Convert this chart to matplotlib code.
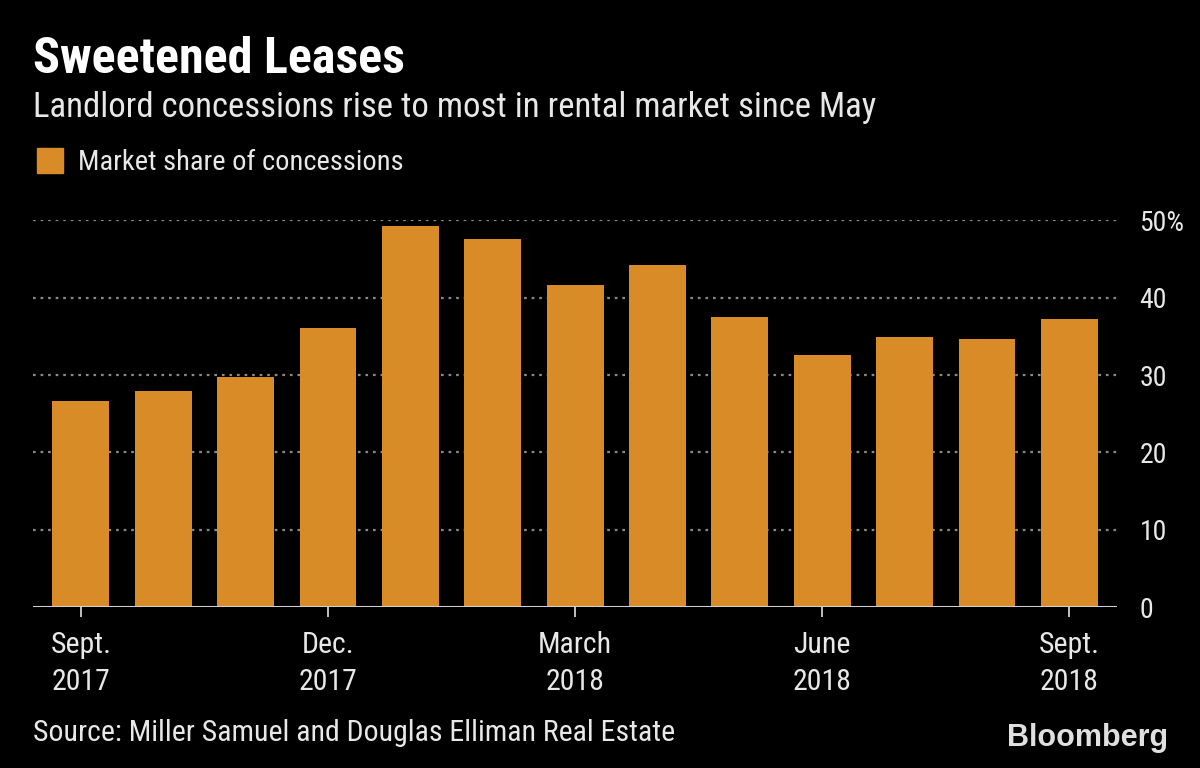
import matplotlib
matplotlib.use("Agg")
import matplotlib.pyplot as plt
from matplotlib import font_manager
import numpy as np

# data (market share of concessions, %)
months = ["Sept. 2017", "Oct. 2017", "Nov. 2017", "Dec. 2017", "Jan. 2018", "Feb. 2018",
          "March 2018", "April 2018", "May 2018", "June 2018", "July 2018", "Aug. 2018",
          "Sept. 2018"]
share = [26.6, 28.0, 29.7, 36.1, 49.3, 47.6, 41.7, 44.2, 37.5, 32.6, 34.9, 34.7, 37.3]
tick_idx = [0, 3, 6, 9, 12]
tick_labels = ["Sept.\n2017", "Dec.\n2017", "March\n2018", "June\n2018", "Sept.\n2018"]
y_ticks = [0, 10, 20, 30, 40, 50]
y_labels = ["0", "10", "20", "30", "40", "50%"]

# pick a narrow sans if one is around
installed = {f.name for f in font_manager.fontManager.ttflist}
font = "DejaVu Sans"
for cand in ["Roboto Condensed", "Liberation Sans Narrow", "DejaVu Sans Condensed", "Noto Sans"]:
    if cand in installed:
        font = cand
        break
plt.rcParams["font.family"] = [font, "DejaVu Sans"]

bg = "black"
orange = "#d98b27"
txt = "#e8e8e8"

fig = plt.figure(figsize=(12, 7.68), dpi=100, facecolor=bg)
ax = fig.add_axes([0.0275, 0.2096, 0.9035, 0.5033], facecolor=bg)

x = np.arange(len(share))
ax.bar(x, share, width=0.69, color=orange, zorder=3)

ax.set_xlim(-0.58, len(share) - 1 + 0.58)
ax.set_ylim(0, 50)

for v in y_ticks[1:]:
    ax.axhline(v, color="#8a8a8a", linestyle=(0, (1.2, 2.2)), linewidth=1.6, zorder=1)
ax.axhline(0, color="#cfcfcf", linewidth=1.5, zorder=4)

for s in ax.spines.values():
    s.set_visible(False)

ax.yaxis.tick_right()
ax.set_yticks(y_ticks)
ax.set_yticklabels(y_labels)
ax.tick_params(axis="y", length=0, pad=16, labelsize=20, labelcolor=txt)
for lab in ax.get_yticklabels():
    lab.set_horizontalalignment("left")

ax.set_xticks(tick_idx)
ax.set_xticklabels(tick_labels, linespacing=1.4)
ax.tick_params(axis="x", length=7.5, width=1.3, color="#cfcfcf", pad=10,
               labelsize=21.5, labelcolor=txt)

fig.text(0.0275, 0.905, "Sweetened Leases", color="white", fontsize=36,
         fontweight="bold", va="baseline")
fig.text(0.0275, 0.8477, "Landlord concessions rise to most in rental market since May",
         color=txt, fontsize=25, va="baseline")

fig.patches.append(plt.Rectangle((0.0308, 0.7747), 0.0217, 0.0326,
                                 transform=fig.transFigure, color=orange))
fig.text(0.065, 0.7786, "Market share of concessions", color=txt, fontsize=20.5,
         va="baseline")

fig.text(0.0275, 0.035, "Source: Miller Samuel and Douglas Elliman Real Estate",
         color=txt, fontsize=21.5, va="baseline")
fig.text(0.9733, 0.0286, "Bloomberg", color="#e0e0e0", fontsize=22, fontweight="bold",
         family=["Liberation Sans", "DejaVu Sans"], ha="right", va="baseline")

fig.savefig("out.png", dpi=100, facecolor=bg)
